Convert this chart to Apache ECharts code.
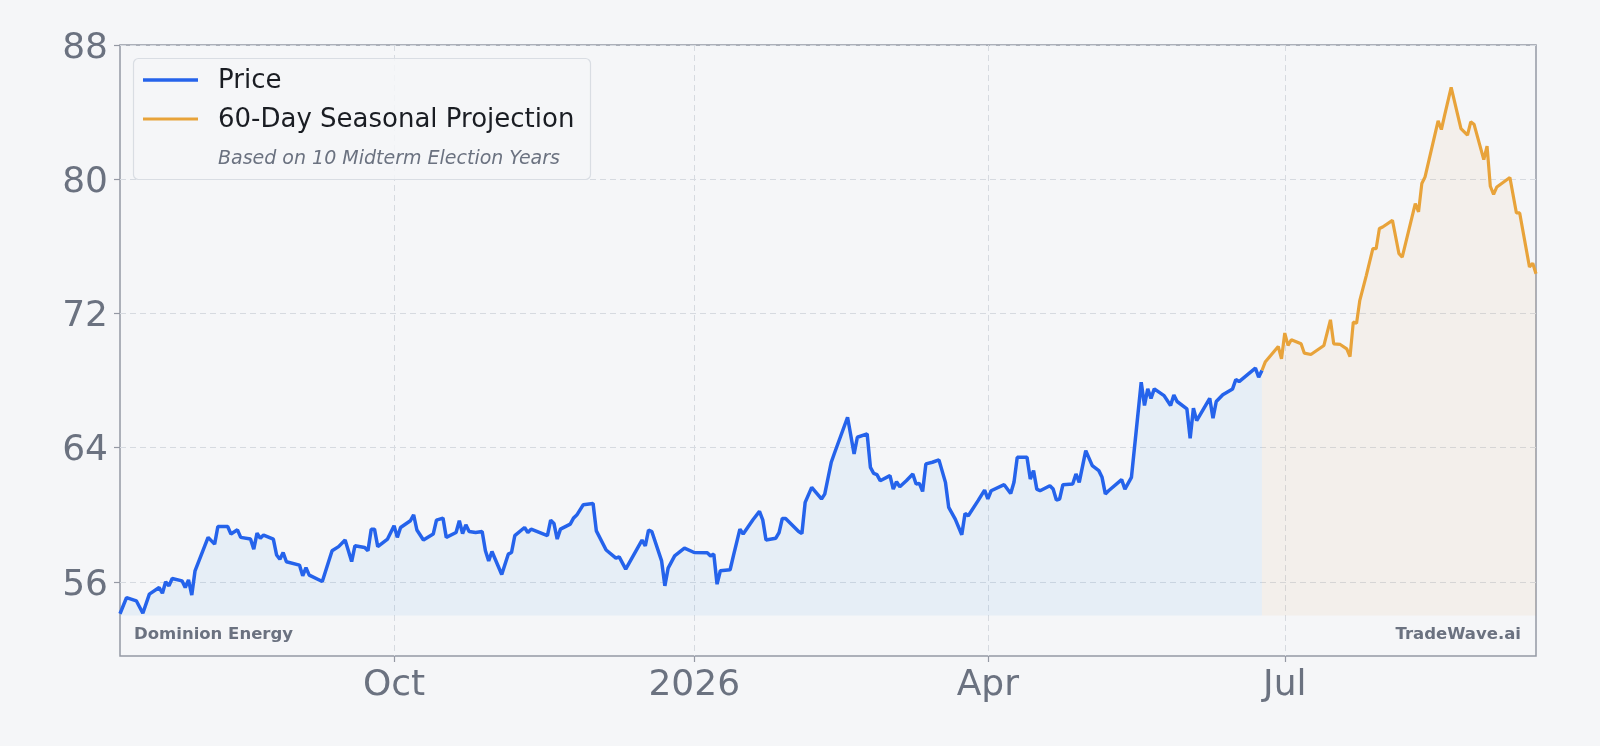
<!DOCTYPE html>
<html>
<head>
<meta charset="utf-8">
<script src="https://cdn.jsdelivr.net/npm/echarts@6/dist/echarts.min.js"></script>
<style>
  html, body { margin: 0; padding: 0; background: #f5f6f8; }
  #chart { width: 1600px; height: 746px; }
</style>
</head>
<body>
<div id="chart"></div>
<script>
// price history
const priceDates = [
  '2025-07-09','2025-07-11','2025-07-14','2025-07-16','2025-07-18','2025-07-21','2025-07-22','2025-07-23','2025-07-24','2025-07-25',
  '2025-07-28','2025-07-29','2025-07-30','2025-07-31','2025-08-01','2025-08-05','2025-08-07','2025-08-08','2025-08-11','2025-08-12',
  '2025-08-14','2025-08-15','2025-08-18','2025-08-19','2025-08-20','2025-08-21','2025-08-22','2025-08-25','2025-08-26','2025-08-27',
  '2025-08-28','2025-08-29','2025-09-02','2025-09-03','2025-09-04','2025-09-05','2025-09-09','2025-09-12','2025-09-14','2025-09-16',
  '2025-09-18','2025-09-19','2025-09-22','2025-09-23','2025-09-24','2025-09-25','2025-09-26','2025-09-29','2025-10-01','2025-10-02',
  '2025-10-03','2025-10-06','2025-10-07','2025-10-08','2025-10-10','2025-10-13','2025-10-14','2025-10-16','2025-10-17','2025-10-20',
  '2025-10-21','2025-10-22','2025-10-23','2025-10-24','2025-10-26','2025-10-28','2025-10-29','2025-10-30','2025-10-31','2025-11-03',
  '2025-11-05','2025-11-06','2025-11-07','2025-11-10','2025-11-11','2025-11-12','2025-11-17','2025-11-18','2025-11-19','2025-11-20',
  '2025-11-21','2025-11-24','2025-11-25','2025-11-26','2025-11-28','2025-12-01','2025-12-02','2025-12-05','2025-12-08','2025-12-09',
  '2025-12-11','2025-12-16','2025-12-17','2025-12-18','2025-12-19','2025-12-22','2025-12-23','2025-12-24','2025-12-26','2025-12-29',
  '2026-01-01','2026-01-05','2026-01-06','2026-01-07','2026-01-08','2026-01-09','2026-01-12','2026-01-13','2026-01-15','2026-01-16',
  '2026-01-19','2026-01-21','2026-01-22','2026-01-23','2026-01-26','2026-01-27','2026-01-28','2026-01-29','2026-02-02','2026-02-03',
  '2026-02-04','2026-02-06','2026-02-09','2026-02-10','2026-02-12','2026-02-13','2026-02-17','2026-02-19','2026-02-20','2026-02-23',
  '2026-02-24','2026-02-25','2026-02-26','2026-02-27','2026-03-02','2026-03-03','2026-03-04','2026-03-05','2026-03-07','2026-03-09',
  '2026-03-10','2026-03-11','2026-03-12','2026-03-13','2026-03-15','2026-03-17','2026-03-19','2026-03-20','2026-03-22','2026-03-24',
  '2026-03-25','2026-03-26','2026-03-29','2026-03-31','2026-04-01','2026-04-02','2026-04-06','2026-04-08','2026-04-09','2026-04-10',
  '2026-04-13','2026-04-14','2026-04-15','2026-04-16','2026-04-17','2026-04-20','2026-04-21','2026-04-22','2026-04-23','2026-04-24',
  '2026-04-27','2026-04-28','2026-04-29','2026-05-01','2026-05-03','2026-05-05','2026-05-06','2026-05-07','2026-05-08','2026-05-12',
  '2026-05-13','2026-05-15','2026-05-18','2026-05-19','2026-05-20','2026-05-21','2026-05-22','2026-05-25','2026-05-27','2026-05-28',
  '2026-05-29','2026-06-01','2026-06-02','2026-06-03','2026-06-04','2026-06-08','2026-06-09','2026-06-10','2026-06-12','2026-06-15',
  '2026-06-16','2026-06-17','2026-06-22','2026-06-23','2026-06-24'
];
const priceValues = [
  54.10,55.06,54.87,54.13,55.27,55.66,55.32,56.00,55.76,56.20,
  56.06,55.66,56.12,55.21,56.66,58.65,58.25,59.30,59.30,58.85,
  59.10,58.65,58.55,57.95,58.90,58.60,58.79,58.55,57.60,57.35,
  57.75,57.20,57.00,56.36,56.85,56.40,56.02,57.85,58.10,58.50,
  57.21,58.15,58.05,57.85,59.14,59.14,58.10,58.55,59.34,58.65,
  59.24,59.64,60.00,59.09,58.49,58.85,59.68,59.80,58.65,58.94,
  59.64,58.88,59.40,59.00,58.94,59.00,57.85,57.25,57.81,56.44,
  57.65,57.75,58.75,59.24,58.94,59.14,58.75,59.68,59.48,58.55,
  59.14,59.44,59.80,59.98,60.60,60.67,59.04,57.90,57.41,57.49,
  56.76,58.49,58.15,59.09,59.00,57.25,55.76,56.82,57.55,58.01,
  57.75,57.73,57.55,57.65,55.86,56.66,56.72,57.55,59.14,58.85,
  59.70,60.20,59.70,58.49,58.60,58.94,59.78,59.78,59.00,58.88,
  60.74,61.63,60.94,61.23,63.13,63.68,65.81,63.62,64.62,64.82,
  62.82,62.47,62.39,62.03,62.33,61.53,61.97,61.67,62.03,62.43,
  61.83,61.87,61.39,63.03,63.13,63.27,61.93,60.44,59.74,58.81,
  60.08,59.94,60.84,61.47,60.94,61.43,61.79,61.27,61.93,63.42,
  63.42,62.13,62.63,61.53,61.43,61.73,61.53,60.88,60.94,61.79,
  61.83,62.43,61.93,63.82,62.93,62.63,62.23,61.24,61.43,62.09,
  61.53,62.23,67.90,66.51,67.50,66.94,67.50,67.10,66.51,67.14,
  66.75,66.31,64.56,66.35,65.61,66.94,65.75,66.75,67.15,67.50,
  68.06,67.94,68.74,68.20,68.60
];

// 60-day seasonal projection (starts at the last price)
const projDates = [
  '2026-06-24','2026-06-25','2026-06-29','2026-06-30','2026-07-01','2026-07-02','2026-07-03','2026-07-06','2026-07-07','2026-07-09',
  '2026-07-13','2026-07-15','2026-07-16','2026-07-18','2026-07-20','2026-07-21','2026-07-22','2026-07-23','2026-07-24','2026-07-26',
  '2026-07-28','2026-07-29','2026-07-30','2026-07-31','2026-08-03','2026-08-05','2026-08-06','2026-08-10','2026-08-11','2026-08-12',
  '2026-08-13','2026-08-17','2026-08-18','2026-08-19','2026-08-21','2026-08-24','2026-08-26','2026-08-27','2026-08-28','2026-08-31',
  '2026-09-01','2026-09-02','2026-09-03','2026-09-04','2026-09-08','2026-09-10','2026-09-11','2026-09-14','2026-09-15','2026-09-16'
];
const projValues = [
  68.60,69.10,70.03,69.30,70.83,70.09,70.43,70.19,69.63,69.55,
  70.09,71.62,70.19,70.15,69.89,69.43,71.48,71.42,72.78,74.27,
  75.86,75.86,77.06,77.15,77.55,75.56,75.36,78.55,78.05,79.74,
  80.14,83.48,82.96,83.82,85.47,83.02,82.63,83.42,83.28,81.17,
  81.97,79.58,79.10,79.54,80.10,77.99,77.99,74.77,74.99,74.36
];

const yTicks = [56, 64, 72, 80, 88];
const xTickDates = ['2025-10-01', '2026-01-01', '2026-04-01', '2026-07-01'];
const xTickLabels = ['Oct', '2026', 'Apr', 'Jul'];

function toTs(s) {
  const p = s.split('-').map(Number);
  return Date.UTC(p[0], p[1] - 1, p[2]);
}
const xTickTs = xTickDates.map(toTs);

const FONT = 'DejaVu Sans';
const GRAY = '#6b7280';
const FRAME = '#9499a4';

const myChart = echarts.init(document.getElementById('chart'));
const option = {
  animation: false,
  backgroundColor: '#f5f6f8',
  grid: {
    left: 120, top: 45, right: 64, bottom: 90,
    show: true,
    borderColor: FRAME,
    borderWidth: 1.5,
    backgroundColor: 'transparent',
  },
  // dates as timestamps on a value axis so the tick positions can be fixed
  xAxis: {
    type: 'value',
    min: toTs('2025-07-09'),
    max: toTs('2026-09-16'),
    axisLine: { show: false },
    axisTick: {
      show: true, length: 6,
      lineStyle: { color: FRAME, width: 1.2 },
      customValues: xTickTs,
    },
    axisLabel: {
      customValues: xTickTs,
      margin: 12,
      fontFamily: FONT,
      fontSize: 36,
      color: GRAY,
      formatter: (v) => {
        const i = xTickTs.indexOf(v);
        return i >= 0 ? xTickLabels[i] : '';
      },
    },
    splitLine: {
      show: true,
      lineStyle: { color: '#d6dae0', type: [6, 4], width: 1 },
    },
  },
  yAxis: {
    type: 'value',
    min: 51.58,
    max: 88,
    axisLine: { show: false },
    axisTick: {
      show: true, length: 6,
      lineStyle: { color: FRAME, width: 1.2 },
      customValues: yTicks,
    },
    axisLabel: {
      customValues: yTicks,
      margin: 12,
      formatter: (v) => '{n|' + v + '}',
      rich: {
        n: { fontFamily: FONT, fontSize: 36, color: GRAY, padding: [7, 0, 0, 0] },
      },
    },
    splitLine: {
      show: true,
      lineStyle: { color: '#d6dae0', type: [6, 4], width: 1 },
    },
  },
  series: [
    {
      name: '60-Day Seasonal Projection',
      type: 'line',
      data: projDates.map((d, i) => [toTs(d), projValues[i]]),
      showSymbol: false,
      lineStyle: { color: '#e8a33a', width: 3.2 },
      itemStyle: { color: '#e8a33a' },
      areaStyle: { color: 'rgba(226,160,70,0.1)', origin: 54 },
      z: 2,
    },
    {
      name: 'Price',
      type: 'line',
      data: priceDates.map((d, i) => [toTs(d), priceValues[i]]),
      showSymbol: false,
      lineStyle: { color: '#2563eb', width: 3.5 },
      itemStyle: { color: '#2563eb' },
      areaStyle: { color: 'rgba(45,136,228,0.1)', origin: 54 },
      z: 3,
    },
  ],
  graphic: [
    {
      type: 'rect', z: 10,
      shape: { x: 133.5, y: 58.5, width: 457, height: 121, r: 5 },
      style: { fill: 'rgba(245,246,248,0.85)', stroke: '#d9dde3', lineWidth: 1.2 },
    },
    {
      type: 'line', z: 11,
      shape: { x1: 143, y1: 80, x2: 198, y2: 80 },
      style: { stroke: '#2563eb', lineWidth: 3.5 },
    },
    {
      type: 'text', z: 11,
      style: { text: 'Price', x: 218, y: 81, verticalAlign: 'middle', fontFamily: FONT, fontSize: 26, fill: '#1a1d23' },
    },
    {
      type: 'line', z: 11,
      shape: { x1: 143, y1: 119, x2: 198, y2: 119 },
      style: { stroke: '#e8a33a', lineWidth: 3.2 },
    },
    {
      type: 'text', z: 11,
      style: { text: '60-Day Seasonal Projection', x: 218, y: 120, verticalAlign: 'middle', fontFamily: FONT, fontSize: 26, fill: '#1a1d23' },
    },
    {
      type: 'text', z: 11,
      style: { text: 'Based on 10 Midterm Election Years', x: 218, y: 159, verticalAlign: 'middle', fontFamily: FONT, fontSize: 19, fontStyle: 'italic', fill: GRAY },
    },
    {
      type: 'text', z: 11,
      style: { text: 'Dominion Energy', x: 134, y: 635, verticalAlign: 'middle', fontFamily: FONT, fontSize: 16.5, fontWeight: 'bold', fill: GRAY },
    },
    {
      type: 'text', z: 11,
      style: { text: 'TradeWave.ai', x: 1521, y: 635, align: 'right', verticalAlign: 'middle', fontFamily: FONT, fontSize: 16.5, fontWeight: 'bold', fill: GRAY },
    },
  ],
};
myChart.setOption(option);
</script>
</body>
</html>
